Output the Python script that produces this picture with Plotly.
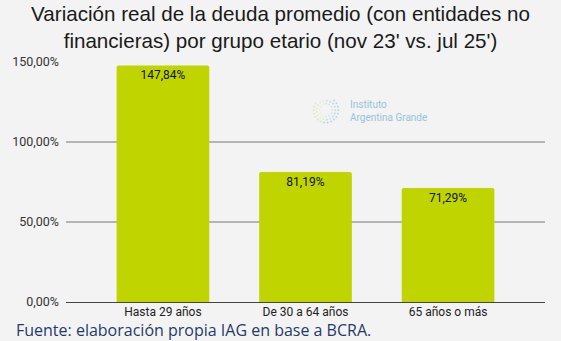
import math
import plotly.graph_objects as go

# Age groups and real change in average debt (%)
grupos = ["Hasta 29 años", "De 30 a 64 años", "65 años o más"]
variacion = [147.84, 81.19, 71.29]
y_ticks = [0, 50, 100, 150]
y_tick_text = [f"{v:.2f}%".replace(".", ",") for v in y_ticks]

BAR = "#c0d400"
BG = "#f3f3f3"

fig = go.Figure()
fig.add_trace(go.Bar(
    x=grupos,
    y=variacion,
    marker=dict(color=BAR, line=dict(width=0), cornerradius=2),
    texttemplate="%{y:.2f}%",
    textposition="inside",
    insidetextanchor="end",
    textfont=dict(family="Roboto", size=12, color="#111111"),
    hoverinfo="skip",
))

# Institute logo: dotted ring plus name
shapes = []
cx, cy = 325, 110
for ring, (r, op) in enumerate([(12.5, 0.75), (9.5, 0.55), (6.5, 0.35)]):
    n = 22 - ring * 5
    for k in range(n):
        a = 2 * math.pi * k / n
        if ring == 0 and 0.9 < a < 2.3:
            continue
        px = cx + r * math.cos(a)
        py = cy - r * math.sin(a)
        col = "#8fc6dc" if math.cos(a) > -0.2 else "#d7e59a"
        shapes.append(dict(type="circle", xref="paper", yref="paper",
                           x0=(px - 0.9 - 64) / 481, x1=(px + 0.9 - 64) / 481,
                           y0=(301.7 - py - 0.9) / 239.7, y1=(301.7 - py + 0.9) / 239.7,
                           fillcolor=col, line=dict(width=0), opacity=op))

annotations = [
    dict(text="Instituto<br>Argentina Grande", xref="paper", yref="paper",
         x=(347 - 64) / 481, y=(301.7 - 111) / 239.7, xanchor="left", yanchor="middle",
         showarrow=False, align="left",
         font=dict(family="Roboto", size=10, color="#98c2da")),
    dict(text="Fuente: elaboración propia IAG en base a BCRA.", xref="paper", yref="paper",
         x=(13 - 64) / 481, y=(301.7 - 330) / 239.7, xanchor="left", yanchor="middle",
         showarrow=False, borderpad=0,
         font=dict(family="Open Sans", size=16, color="#1f3a6b")),
]

fig.update_layout(
    width=561, height=341,
    paper_bgcolor=BG, plot_bgcolor=BG,
    margin=dict(l=64, r=16, t=62, b=39.3),
    separators=",.",
    bargap=0.35,
    showlegend=False,
    title=dict(
        text="Variación real de la deuda promedio (con entidades no<br>financieras) por grupo etario (nov 23' vs. jul 25')",
        x=0.5, xanchor="center", y=0.937, yanchor="middle",
        font=dict(family="Liberation Sans", size=20.6, color="#1a1a1a"),
    ),
    xaxis=dict(
        range=[-0.68, 2.68], showgrid=False, zeroline=False, showline=False,
        ticks="", ticklabelstandoff=1,
        tickfont=dict(family="Roboto", size=12, color="#222222"),
    ),
    yaxis=dict(
        range=[0, 150], tickvals=y_ticks, ticktext=y_tick_text,
        showgrid=True, gridcolor="#b4b4b4", gridwidth=1.5,
        zeroline=True, zerolinecolor="#444444", zerolinewidth=1,
        ticks="", ticklabelstandoff=6,
        tickfont=dict(family="Roboto", size=12.5, color="#333333"),
    ),
    shapes=shapes,
    annotations=annotations,
)

fig.write_html("out.html")
